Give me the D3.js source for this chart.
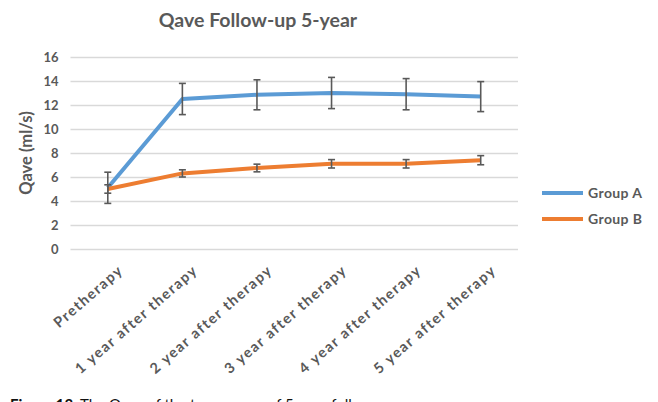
<!DOCTYPE html>
<html>
<head>
<meta charset="utf-8">
<script src="https://cdn.jsdelivr.net/npm/d3@7"></script>
<style>
  html, body { margin: 0; padding: 0; background: #fff; }
  svg { display: block; }
</style>
</head>
<body>
<svg id="chart" width="658" height="402"></svg>
<script>
// Qave (ml/s) at each follow-up point, mean and error
const categories = [
  "Pretherapy",
  "1 year after therapy",
  "2 year after therapy",
  "3 year after therapy",
  "4 year after therapy",
  "5 year after therapy"
];
const groupA = [5.1, 12.5, 12.85, 13.0, 12.9, 12.7];
const groupAErr = [1.3, 1.3, 1.25, 1.3, 1.3, 1.25];
const groupB = [5.0, 6.3, 6.75, 7.1, 7.1, 7.4];
const groupBErr = [0.35, 0.3, 0.32, 0.35, 0.35, 0.38];
const yTicks = [0, 2, 4, 6, 8, 10, 12, 14, 16];
const seriesNames = ["Group A", "Group B"];
const seriesColors = ["#5B9BD5", "#ED7D31"];

const series = [
  { name: seriesNames[0], color: seriesColors[0], values: groupA, errs: groupAErr },
  { name: seriesNames[1], color: seriesColors[1], values: groupB, errs: groupBErr }
];

const svg = d3.select("#chart");
const font = "Lato, 'Open Sans', sans-serif";
const textColor = "#595959";

const x = d3.scaleBand().domain(categories).range([70.5, 518]).padding(0);
const cx = c => x(c) + x.bandwidth() / 2;
const y = d3.scaleLinear().domain([0, 16]).range([249, 57]);

// Title
svg.append("text")
  .attr("x", 258).attr("y", 27)
  .attr("text-anchor", "middle")
  .attr("font-family", font).attr("font-weight", 700)
  .attr("font-size", 19.5).attr("fill", textColor)
  .text("Qave Follow-up 5-year");

// Horizontal gridlines + y tick labels
const yAxis = d3.axisLeft(y).tickValues(yTicks).tickSize(-(518 - 70.5)).tickPadding(12);
const gy = svg.append("g").attr("transform", "translate(70.5,0)").call(yAxis);
gy.select(".domain").remove();
gy.selectAll(".tick line").attr("stroke", "#d9d9d9").attr("stroke-width", 1.3);
gy.selectAll(".tick text")
  .attr("font-family", font).attr("font-weight", 700)
  .attr("font-size", 13).attr("fill", textColor);

// Y-axis title
svg.append("text")
  .attr("transform", "translate(32,153) rotate(-90)")
  .attr("text-anchor", "middle")
  .attr("font-family", font).attr("font-weight", 700)
  .attr("font-size", 16.5).attr("fill", textColor)
  .text("Qave (ml/s)");

// Category labels, rotated
const xAxis = d3.axisBottom(x).tickSize(0).tickPadding(0);
const gx = svg.append("g").attr("transform", "translate(0,249)").call(xAxis);
gx.select(".domain").remove();
gx.selectAll(".tick text")
  .attr("font-family", font).attr("font-weight", 700)
  .attr("font-size", 14.5).attr("letter-spacing", 1.5)
  .attr("fill", textColor)
  .attr("text-anchor", "end")
  .attr("transform", "translate(13,19) rotate(-41)")
  .attr("dy", "0.35em");

// Lines
const line = d3.line()
  .x((d, i) => cx(categories[i]))
  .y(d => y(d));

series.forEach(s => {
  svg.append("path")
    .datum(s.values)
    .attr("fill", "none")
    .attr("stroke", s.color)
    .attr("stroke-width", 4)
    .attr("stroke-linejoin", "round")
    .attr("d", line);
});

// Error bars
series.forEach(s => {
  const g = svg.append("g").attr("stroke", "#595959").attr("stroke-width", 1.6);
  s.values.forEach((v, i) => {
    const px = cx(categories[i]);
    const top = y(v + s.errs[i]);
    const bot = y(v - s.errs[i]);
    g.append("line").attr("x1", px).attr("x2", px).attr("y1", top).attr("y2", bot);
    g.append("line").attr("x1", px - 3.5).attr("x2", px + 3.5).attr("y1", top).attr("y2", top);
    g.append("line").attr("x1", px - 3.5).attr("x2", px + 3.5).attr("y1", bot).attr("y2", bot);
  });
});

// Legend
const legend = svg.append("g");
series.forEach((s, i) => {
  const ly = 193 + i * 26;
  legend.append("line")
    .attr("x1", 542).attr("x2", 583).attr("y1", ly).attr("y2", ly)
    .attr("stroke", s.color).attr("stroke-width", 4);
  legend.append("text")
    .attr("x", 588).attr("y", ly).attr("dy", "0.35em")
    .attr("font-family", font).attr("font-weight", 700)
    .attr("font-size", 14).attr("letter-spacing", 0.4)
    .attr("fill", textColor)
    .text(s.name);
});

// Caption
const cap = svg.append("text")
  .attr("x", 10).attr("y", 410)
  .attr("font-family", "Lato, sans-serif")
  .attr("font-size", 15).attr("fill", "#111");
cap.append("tspan").attr("font-weight", 700).text("Figure 13.");
cap.append("tspan").text(" The Qave of the two groups of 5-year follow-up");
</script>
</body>
</html>
